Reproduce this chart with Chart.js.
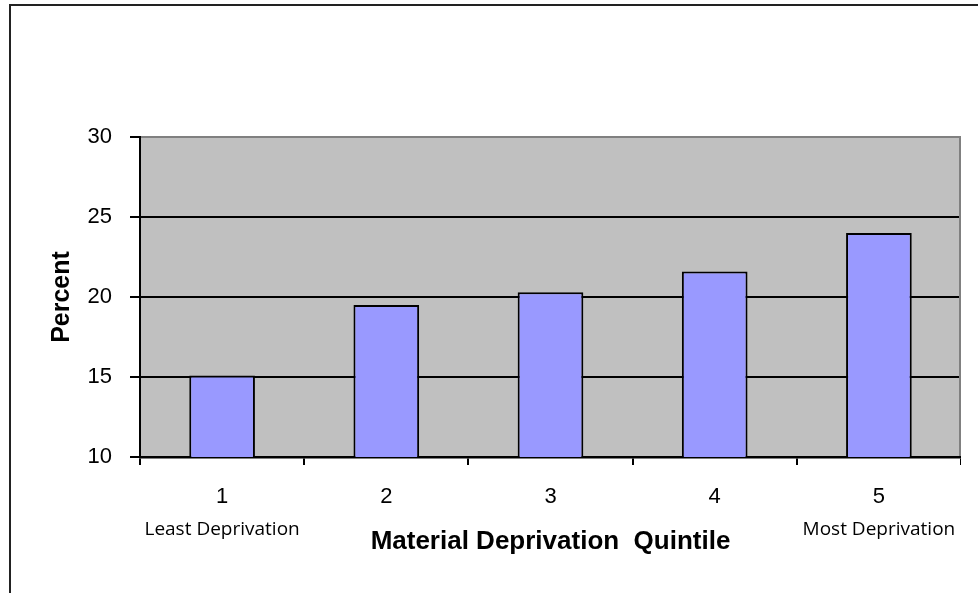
<!DOCTYPE html>
<html>
<head>
<meta charset="utf-8">
<script src="https://cdn.jsdelivr.net/npm/chart.js@4/dist/chart.umd.min.js"></script>
<style>
  html, body { margin: 0; padding: 0; background: #fff; overflow: hidden; }
  #wrap { position: relative; width: 978px; height: 593px; }
  /* outer frame of the chart object, running off the right and bottom edges */
  #frame {
    position: absolute; left: 9px; top: 4px; width: 1000px; height: 620px;
    border-left: 2px solid #222; border-top: 2px solid #222;
  }
  #c { position: absolute; left: 0; top: 0; }
</style>
</head>
<body>
<div id="wrap">
  <div id="frame"></div>
  <canvas id="c" width="961" height="593"></canvas>
</div>
<script>
// Share of population (%) by material deprivation quintile
const quintiles = ['1', '2', '3', '4', '5'];
const quintileNotes = ['Least Deprivation', '', '', '', 'Most Deprivation'];
const percentValues = [15.1, 19.5, 20.3, 21.6, 24.0];
const yTicks = [10, 15, 20, 25, 30];

const PLOT_BG = '#C0C0C0';
const BAR_FILL = '#9999FF';

// Grey plot background, with a grey edge along the top and right
const plotAreaPlugin = {
  id: 'plotArea',
  beforeDraw(chart) {
    const { ctx, chartArea: a } = chart;
    ctx.save();
    ctx.fillStyle = PLOT_BG;
    ctx.fillRect(a.left, a.top, a.right - a.left, a.bottom - a.top);
    ctx.restore();
  },
  afterDatasetsDraw(chart) {
    const { ctx, chartArea: a } = chart;
    ctx.save();
    ctx.strokeStyle = '#808080';
    ctx.lineWidth = 2;
    ctx.beginPath();
    ctx.moveTo(a.left + 1, a.top);
    ctx.lineTo(a.right - 1, a.top);
    ctx.lineTo(a.right - 1, a.bottom - 1);
    ctx.stroke();
    ctx.restore();
  }
};

// Second line under the quintile numbers, in a lighter face
const notesPlugin = {
  id: 'quintileNotes',
  afterDraw(chart) {
    const { ctx } = chart;
    const x = chart.scales.x;
    ctx.save();
    ctx.fillStyle = '#000';
    ctx.font = '19px "Open Sans"';
    ctx.textAlign = 'center';
    ctx.textBaseline = 'middle';
    quintileNotes.forEach((t, i) => {
      if (t) ctx.fillText(t, x.getPixelForValue(i), 530);
    });
    ctx.restore();
  }
};

new Chart(document.getElementById('c'), {
  type: 'bar',
  data: {
    labels: quintiles,
    datasets: [{
      data: percentValues,
      backgroundColor: BAR_FILL,
      borderColor: '#000',
      borderWidth: 2,
      categoryPercentage: 1,
      barPercentage: 0.4
    }]
  },
  options: {
    responsive: false,
    animation: false,
    layout: { padding: { top: 137, right: 0, left: 0, bottom: 0 } },
    plugins: { legend: { display: false }, tooltip: { enabled: false } },
    scales: {
      x: {
        afterFit(s) { s.height = 136; },
        grid: {
          offset: true,
          drawOnChartArea: false,
          color: '#000',
          lineWidth: 2,
          tickLength: 8
        },
        border: { color: '#000', width: 2.5 },
        ticks: {
          color: '#000',
          font: { family: 'Liberation Sans', size: 22 },
          padding: 19,
          maxRotation: 0
        },
        title: {
          display: true,
          text: 'Material Deprivation  Quintile',
          color: '#000',
          font: { family: 'Liberation Sans', size: 26, weight: 'bold' },
          padding: { top: 0, bottom: 36 }
        }
      },
      y: {
        min: 10,
        max: 30,
        afterFit(s) { s.width = 140; },
        afterBuildTicks(s) { s.ticks = yTicks.map(v => ({ value: v })); },
        grid: {
          color: '#000',
          lineWidth: 2,
          tickLength: 10
        },
        border: { color: '#000', width: 2 },
        ticks: {
          color: '#000',
          font: { family: 'Liberation Sans', size: 22 },
          padding: 18
        },
        title: {
          display: true,
          text: 'Percent',
          color: '#000',
          font: { family: 'Liberation Sans', size: 25, weight: 'bold' },
          padding: { top: 47, bottom: 0 }
        }
      }
    }
  },
  plugins: [plotAreaPlugin, notesPlugin]
});
</script>
</body>
</html>
